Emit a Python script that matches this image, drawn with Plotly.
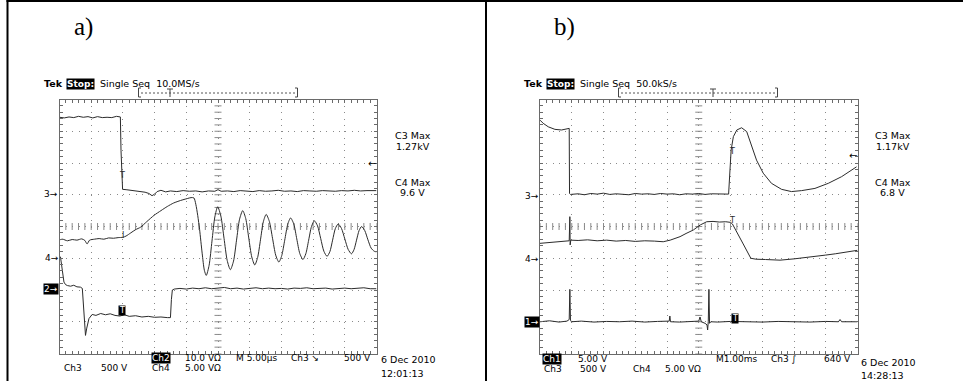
import plotly.graph_objects as go

W, H = 963, 381

# ---------------- data (screen divisions: x 0..10, y -4..4) ----------------
# panel a) Ch3 (high-voltage step)
a_ch3_x = [0, 0.15, 0.3, 0.45, 0.6, 0.75, 0.9, 1.05, 1.2, 1.35, 1.5, 1.65, 1.8, 1.92, 1.94, 1.96, 1.99,
           2.1, 2.25, 2.4, 2.55, 2.7, 2.82, 2.92, 3.0, 3.08, 3.2, 3.35, 3.5, 3.7, 3.9, 4.1, 4.3, 4.5, 4.7,
           4.9, 5.0, 5.1, 5.3, 5.5, 5.7, 5.9, 6.1, 6.3, 6.5, 6.7, 6.9, 7.1, 7.3, 7.5, 7.7, 7.9, 8.1, 8.3,
           8.5, 8.7, 8.9, 9.1, 9.3, 9.5, 9.7, 9.9, 10.0]
a_ch3_y = [3.44, 3.42, 3.45, 3.43, 3.47, 3.44, 3.46, 3.42, 3.46, 3.43, 3.44, 3.43, 3.47, 3.45, 2.4, 1.6, 1.17,
           1.16, 1.14, 1.12, 1.11, 1.08, 1.04, 0.97, 1.02, 1.1, 1.14, 1.09, 1.12, 1.1, 1.13, 1.11, 1.12, 1.09, 1.12,
           1.11, 1.16, 1.11, 1.12, 1.1, 1.13, 1.12, 1.1, 1.13, 1.11, 1.12, 1.14, 1.11, 1.12, 1.1, 1.13, 1.12, 1.11,
           1.13, 1.12, 1.11, 1.13, 1.12, 1.14, 1.12, 1.13, 1.12, 1.13]

# panel a) Ch4 (ringing current)
a_ch4_x = [0, 0.1, 0.25, 0.4, 0.55, 0.7, 0.8, 0.87, 0.95, 1.1, 1.25, 1.4, 1.55, 1.7, 1.85, 2.0, 2.1,
           2.25, 2.4, 2.56, 2.75, 2.98, 3.2, 3.4, 3.6, 3.82, 4.03, 4.15, 4.24,
           4.3, 4.36, 4.42, 4.5, 4.57, 4.63, 4.72, 4.81, 4.9, 4.99,
           5.09, 5.19, 5.29, 5.39, 5.49, 5.585, 5.68, 5.78,
           5.875, 5.97, 6.065, 6.16, 6.25, 6.34, 6.43, 6.52,
           6.62, 6.72, 6.82, 6.92, 7.01, 7.105, 7.2, 7.29,
           7.39, 7.485, 7.58, 7.68, 7.77, 7.86, 7.95, 8.04,
           8.14, 8.24, 8.34, 8.44, 8.53, 8.615, 8.7, 8.79,
           8.895, 9.0, 9.105, 9.21, 9.29, 9.37, 9.45, 9.53,
           9.63, 9.73, 9.83, 9.93, 10.0]
a_ch4_y = [-0.42, -0.4, -0.45, -0.41, -0.43, -0.39, -0.44, -0.55, -0.43, -0.4, -0.38, -0.4, -0.36, -0.37, -0.35, -0.34, -0.3,
           -0.2, -0.1, -0.02, 0.15, 0.35, 0.5, 0.63, 0.74, 0.82, 0.88, 0.91, 0.9,
           0.7, 0.35, -0.1, -0.84, -1.38, -1.54, -1.22, -0.46, 0.3, 0.62,
           0.33, -0.37, -1.07, -1.36, -1.09, -0.43, 0.23, 0.5,
           0.25, -0.36, -0.96, -1.21, -0.98, -0.42, 0.15, 0.38,
           0.16, -0.37, -0.9, -1.12, -0.92, -0.43, 0.07, 0.27,
           0.08, -0.39, -0.85, -1.04, -0.86, -0.43, 0.0, 0.18,
           0.02, -0.38, -0.78, -0.94, -0.79, -0.43, -0.07, 0.08,
           -0.06, -0.39, -0.72, -0.86, -0.73, -0.43, -0.13, 0.0,
           -0.13, -0.42, -0.68, -0.78, -0.8]

# panel a) Ch2 (gate signal)
a_ch2_x = [0.03, 0.08, 0.14, 0.19, 0.25, 0.35, 0.45, 0.55, 0.66, 0.72, 0.75, 0.79, 0.82, 0.86, 0.93, 1.03,
           1.15, 1.3, 1.45, 1.6, 1.75, 1.9, 2.05, 2.2, 2.4, 2.6, 2.8, 3.0, 3.2, 3.4, 3.5, 3.53, 3.56, 3.62,
           3.8, 4.0, 4.2, 4.4, 4.6, 4.8, 5.0, 5.2, 5.4, 5.6, 5.8, 6.0, 6.2, 6.4, 6.6, 6.8, 7.0, 7.2, 7.4,
           7.6, 7.8, 8.0, 8.2, 8.4, 8.6, 8.8, 9.0, 9.2, 9.4, 9.6, 9.8, 10.0]
a_ch2_y = [-0.95, -1.4, -1.75, -1.83, -1.86, -1.88, -1.85, -1.9, -1.91, -1.95, -2.5, -3.1, -3.43, -3.2, -2.9, -2.77,
           -2.8, -2.74, -2.78, -2.75, -2.8, -2.82, -2.78, -2.83, -2.81, -2.85, -2.83, -2.86, -2.85, -2.87, -2.87, -2.3, -2.0, -1.97,
           -1.95, -1.97, -1.94, -1.96, -1.93, -1.96, -1.95, -1.92, -1.96, -1.94, -1.97, -1.95, -1.93, -1.96, -1.94, -1.96, -1.95, -1.97, -1.94,
           -1.95, -1.93, -1.96, -1.95, -1.94, -1.97, -1.95, -1.94, -1.96, -1.95, -1.93, -1.96, -1.96]

# panel b) Ch3
b_ch3_x = [0, 0.1, 0.26, 0.47, 0.68, 0.85, 0.92, 0.93, 0.96, 1.2, 1.4, 1.6, 1.8, 2.0, 2.2, 2.4, 2.6, 2.8, 3.0, 3.2,
           3.4, 3.6, 3.8, 4.0, 4.2, 4.4, 4.6, 4.8, 5.0, 5.2, 5.4, 5.6, 5.8, 5.94, 6.02, 6.09, 6.2, 6.35, 6.51,
           6.66, 6.82, 7.03, 7.29, 7.61, 7.92, 8.24, 8.66, 9.08, 9.5, 9.97]
b_ch3_y = [3.35, 3.25, 3.14, 3.06, 3.04, 3.08, 3.09, 1.04, 1.01, 1.03, 1.0, 1.04, 1.02, 1.05, 1.01, 1.03, 1.02, 1.0, 1.04, 1.02,
           1.03, 1.01, 1.04, 1.02, 1.03, 1.0, 1.03, 1.02, 1.04, 1.01, 1.03, 1.02, 1.01, 1.02, 2.41, 2.83, 3.04, 3.11, 2.99,
           2.57, 2.09, 1.68, 1.36, 1.17, 1.1, 1.13, 1.2, 1.36, 1.57, 1.88]

# panel b) Ch4
b_ch4_x = [0, 0.3, 0.6, 0.92, 0.94, 0.95, 0.97, 1.2, 1.5, 1.8, 2.1, 2.4, 2.7, 3.0, 3.3, 3.6, 3.88, 4.1, 4.41, 4.6,
           4.83, 5.05, 5.25, 5.45, 5.65, 5.85, 6.0, 6.06, 6.17, 6.4, 6.64, 6.8, 7.1, 7.56, 8.0, 8.3, 8.61, 9.0,
           9.3, 9.6, 9.92, 10.0]
b_ch4_y = [-0.53, -0.5, -0.47, -0.45, 0.31, -0.58, -0.43, -0.44, -0.42, -0.45, -0.43, -0.46, -0.44, -0.47, -0.45, -0.46, -0.48, -0.43, -0.32, -0.22,
           -0.11, 0.05, 0.15, 0.16, 0.14, 0.15, 0.13, 0.08, -0.11, -0.55, -1.0, -1.03, -1.04, -1.06, -1.02, -0.99, -0.95, -0.9,
           -0.86, -0.82, -0.76, -0.75]

# panel b) Ch1
b_ch1_x = [0, 0.3, 0.6, 0.85, 0.92, 0.94, 0.96, 0.99, 1.3, 1.7, 2.1, 2.5, 2.9, 3.3, 3.7, 4.0, 4.07, 4.09, 4.11,
           4.4, 4.7, 5.0, 5.04, 5.08, 5.2, 5.26, 5.28, 5.3, 5.32, 5.34, 5.38, 5.6, 6.0, 6.5, 7.0, 7.5, 8.0,
           8.5, 9.0, 9.4, 9.45, 9.5, 10.0]
b_ch1_y = [-3.0, -2.97, -3.01, -2.98, -2.93, -1.98, -2.95, -3.0, -2.98, -3.01, -2.99, -3.0, -2.98, -3.01, -2.99, -3.0, -2.98, -2.82, -3.0,
           -3.01, -2.99, -2.98, -2.85, -3.0, -3.05, -3.1, -3.26, -3.0, -1.98, -3.05, -3.0, -3.01, -2.99, -3.0, -3.01, -2.99, -3.0,
           -3.01, -2.99, -3.0, -2.93, -3.0, -3.0]

# text
a_header = "Single Seq  10.0MS/s"
b_header = "Single Seq  50.0kS/s"
a_meas = ["C3 Max", "1.27kV", "C4 Max", "9.6 V"]
b_meas = ["C3 Max", "1.17kV", "C4 Max", "6.8 V"]

# ---------------- figure ----------------
TRACE = "#2b2b2b"
GRID = "#8a8a8a"
FRAME = "#6a6a6a"
FONT = "DejaVu Sans"


def px(x):
    return x / W


def py(y):
    return 1 - y / H


fig = go.Figure()

panels = [("x", "y", 59.5, 376.5), ("x2", "y2", 540.0, 857.5)]
series = [
    [(a_ch3_x, a_ch3_y, "linear"), (a_ch4_x, a_ch4_y, "spline"), (a_ch2_x, a_ch2_y, "linear")],
    [(b_ch3_x, b_ch3_y, "linear"), (b_ch4_x, b_ch4_y, "linear"), (b_ch1_x, b_ch1_y, "linear")],
]

center_ticks_x = [i * 0.2 for i in range(51)]
center_ticks_y = [-4 + i * 0.2 for i in range(41)]

for (xa, ya, l, r), sers in zip(panels, series):
    # centre cross tick marks
    fig.add_trace(go.Scatter(x=center_ticks_x, y=[0] * len(center_ticks_x), mode="markers", xaxis=xa, yaxis=ya,
                             marker=dict(symbol="line-ns-open", size=5, color=GRID, line=dict(color=GRID, width=1)),
                             hoverinfo="skip", showlegend=False))
    fig.add_trace(go.Scatter(x=[5] * len(center_ticks_y), y=center_ticks_y, mode="markers", xaxis=xa, yaxis=ya,
                             marker=dict(symbol="line-ew-open", size=5, color=GRID, line=dict(color=GRID, width=1)),
                             hoverinfo="skip", showlegend=False))
    for sx, sy, shp in sers:
        fig.add_trace(go.Scatter(x=sx, y=sy, mode="lines", xaxis=xa, yaxis=ya,
                                 line=dict(color=TRACE, width=1, shape=shp, smoothing=0.7 if shp == "spline" else None),
                                 hoverinfo="skip", showlegend=False))

top, bottom = 99.5, 353.5
axis_common = dict(showgrid=True, gridcolor=GRID, griddash="1px,5.35px", gridwidth=1, zeroline=False,
                   showline=True, linecolor=FRAME, linewidth=1, mirror="ticks", ticks="inside", ticklen=3,
                   tickcolor=FRAME, showticklabels=False, dtick=1, fixedrange=True,
                   minor=dict(dtick=0.2, ticks="inside", ticklen=3, tickcolor=FRAME, showgrid=False))

layout = dict(width=W, height=H, margin=dict(l=0, r=0, t=0, b=0), paper_bgcolor="white", plot_bgcolor="white",
              showlegend=False)
for (xa, ya, l, r) in panels:
    xk = "xaxis" if xa == "x" else "xaxis2"
    yk = "yaxis" if ya == "y" else "yaxis2"
    layout[xk] = dict(axis_common, domain=[px(l), px(r)], range=[0, 10], anchor=ya)
    layout[yk] = dict(axis_common, domain=[py(bottom), py(top)], range=[-4, 4], anchor=xa)
fig.update_layout(**layout)

ann = []


def text(t, x, y, size=9.5, xanchor="left", color="black", bg=None, family=FONT, xref="paper", yref="paper"):
    d = dict(text=t, x=px(x) if xref == "paper" else x, y=py(y) if yref == "paper" else y,
             xref=xref, yref=yref, xanchor=xanchor, yanchor="middle", showarrow=False,
             font=dict(family=family, size=size, color=color), borderpad=0)
    if bg:
        d["bgcolor"] = bg
    ann.append(d)


shapes = []


def seg(x0, y0, x1, y1, color="#444", width=1, dash=None):
    ln = dict(color=color, width=width)
    if dash:
        ln["dash"] = dash
    shapes.append(dict(type="line", xref="paper", yref="paper", x0=px(x0), x1=px(x1), y0=py(y0), y1=py(y1), line=ln))


for off, lab, header, meas, date, tm, trig in [(0, "a)", a_header, a_meas, "6 Dec 2010", "12:01:13", 170),
                                               (480, "b)", b_header, b_meas, "6 Dec 2010", "14:28:13", 713)]:
    text(lab, 73 + off, 27, size=25, family="Liberation Serif")
    text("<b>Tek</b>", 43 + off, 83.5)
    text("<b>Stop:</b>", 66 + off, 83.5, color="white", bg="black", size=9)
    text(header, 99 + off, 83.5)
    # trigger bracket "[----T----]"
    seg(138.5 + off, 88, 138.5 + off, 97)
    seg(138.5 + off, 88, 141 + off, 88)
    seg(138.5 + off, 97, 141 + off, 97)
    seg(297.5 + off, 88, 297.5 + off, 97)
    seg(295 + off, 88, 297.5 + off, 88)
    seg(295 + off, 97, 297.5 + off, 97)
    seg(141 + off, 93, 295 + off, 93, color="#555", dash="2px,2px")
    seg(trig - 3, 89, trig + 3, 89)
    seg(trig, 89, trig, 97)
    for i in range(2):
        text(meas[2 * i], 412.5 + off, 135 + 47 * i, xanchor="center")
        text(meas[2 * i + 1], 412.5 + off, 146 + 47 * i, xanchor="center")
    text(date, 380 + off, 359 + (3 if off else 0))
    text(tm, 380 + off, 373 + (2 if off else 0))

# channel ground markers
text("3→", 59, 194, size=9, xanchor="right")
text("4→", 60, 258, size=9, xanchor="right")
text("2→", 59, 289, size=9, xanchor="right", color="white", bg="black")
text("3→", 540, 196, size=9, xanchor="right")
text("4→", 540, 259, size=9, xanchor="right")
text("1→", 540, 322, size=9, xanchor="right", color="white", bg="black")

# trigger level arrows
text("←", 377, 163, size=10, xanchor="right")
text("←", 858, 156, size=10, xanchor="right")

# markers on traces
text("T", 1.98, 1.62, size=8, xanchor="center", xref="x", yref="y", color=TRACE)
text("I", 2.0, -0.28, size=8, xanchor="center", xref="x", yref="y", color=TRACE)
text("T", 1.98, -2.65, size=8, xanchor="center", xref="x", yref="y", color="white", bg="black")
text("T", 6.05, 2.36, size=8, xanchor="center", xref="x2", yref="y2", color=TRACE)
text("T", 6.05, 0.2, size=8, xanchor="center", xref="x2", yref="y2", color=TRACE)
text("T", 6.15, -2.89, size=8, xanchor="center", xref="x2", yref="y2", color="white", bg="black")

# bottom status lines, panel a
text("Ch3", 63, 367.5, size=9)
text("500 V", 100, 367.5, size=9)
text("Ch2", 151, 357.5, color="white", bg="black", size=9)
text("10.0 VΩ", 184, 357.5, size=9)
text("Ch4", 151, 367.5, size=9)
text("5.00 VΩ", 184, 367.5, size=9)
text("M 5.00µs", 235, 357.5, size=9)
text("Ch3 ↘", 290, 357.5, size=9)
text("500 V", 372, 357.5, xanchor="right", size=9)
# panel b
text("Ch1", 542, 359, color="white", bg="black", size=9)
text("5.00 V", 577, 359, size=9)
text("Ch3", 543, 368.5, size=9)
text("500 V", 579, 368.5, size=9)
text("Ch4", 632, 368.5, size=9)
text("5.00 VΩ", 664, 368.5, size=9)
text("M1.00ms", 715, 359, size=9)
text("Ch3 ∫", 770, 359, size=9)
text("640 V", 852, 359, xanchor="right", size=9)

fig.update_layout(annotations=ann)

# outer frame
seg(7.5, 0, 7.5, H, color="black", width=2)
seg(6.5, 1, W, 1, color="black", width=2)
seg(486, 0, 486, H, color="black", width=2)
fig.update_layout(shapes=shapes)

fig.write_html("out.html", config={"displayModeBar": False},
               post_script="document.body.style.margin='0';document.body.style.overflow='hidden';")
